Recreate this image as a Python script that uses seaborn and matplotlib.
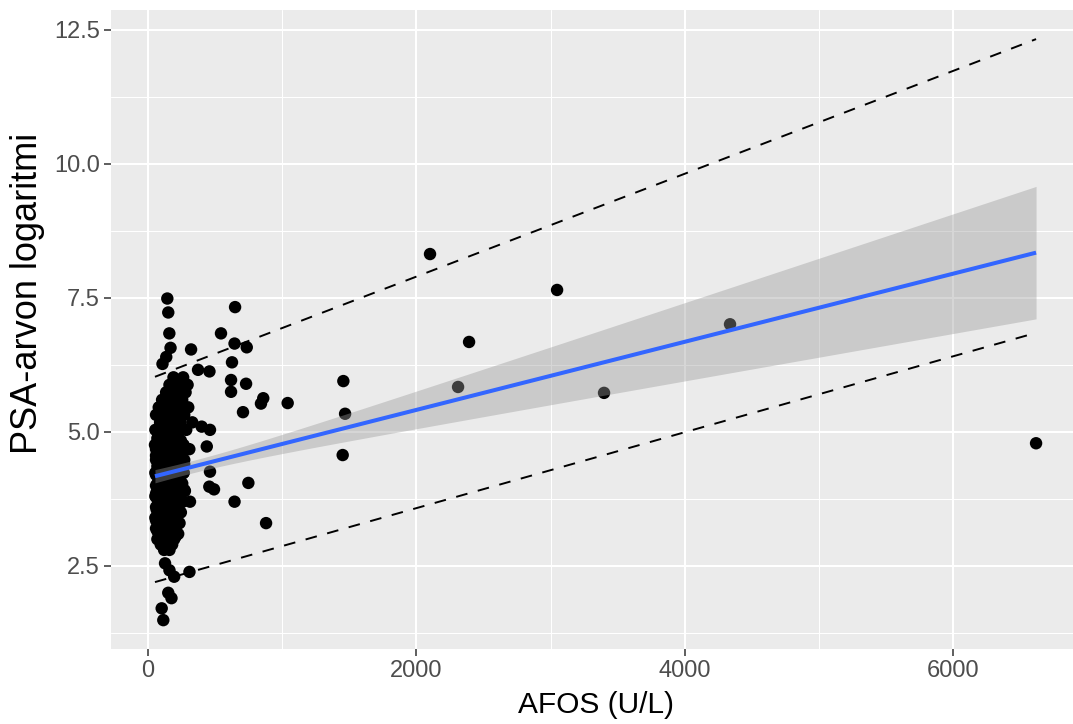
import numpy as np
import pandas as pd
import matplotlib
matplotlib.use("Agg")
import matplotlib.pyplot as plt
import seaborn as sns
from matplotlib.ticker import MultipleLocator, FixedLocator, FixedFormatter

# ---------------- data ----------------
# isolated / readable points
iso_afos = [144, 151, 159, 168, 321, 136, 108, 649, 544, 645, 736, 626, 373, 458,
            619, 619, 731, 859, 842, 1041, 708, 1456, 1469, 1451, 2102, 3049, 2393,
            4338, 2311, 3399, 6619, 462, 457, 492, 748, 313, 645, 880, 127, 309,
            195, 160, 151, 175, 102, 114, 400, 462, 438, 308]
iso_psa = [7.49, 7.23, 6.84, 6.57, 6.54, 6.40, 6.27, 7.33, 6.84, 6.65, 6.58, 6.30, 6.16, 6.13,
           5.97, 5.75, 5.90, 5.63, 5.53, 5.54, 5.37, 5.95, 5.34, 4.57, 8.32, 7.65, 6.68,
           7.01, 5.84, 5.73, 4.79, 4.26, 3.98, 3.93, 4.05, 3.70, 3.70, 3.30, 2.55, 2.39,
           2.30, 2.42, 2.00, 1.90, 1.71, 1.49, 5.10, 5.04, 4.73, 4.68]

# dense, overlapping cluster near the y axis (estimated; mostly hidden)
cl_afos = [190, 262, 160, 235, 295, 135, 210, 280, 105, 180, 255,
           80, 150, 225, 300, 60, 125, 195, 270, 90, 165, 240, 330,
           55, 130, 205, 285, 75, 150, 225, 52, 115, 190, 265, 85, 160, 235,
           60, 130, 200, 270, 95, 170, 240, 55, 125, 195, 265, 85, 155, 225,
           60, 120, 185, 250, 90, 150, 210, 275, 55, 115, 175, 240,
           80, 140, 200, 260, 60, 105, 165, 225, 75, 130, 190, 245,
           55, 100, 155, 215, 80, 125, 180, 235, 60, 105, 150, 205,
           85, 130, 175, 225, 70, 110, 155, 195, 95, 140, 180, 120, 160,
           70, 135, 200, 100, 160, 230, 65, 125, 185, 90, 150, 210,
           60, 115, 170, 85, 140, 195, 70, 120, 175, 100, 150, 205,
           65, 110, 165, 90, 135, 185, 120, 150]
cl_psa = [6.02, 6.02, 5.88, 5.88, 5.88, 5.74, 5.74, 5.74, 5.60, 5.60, 5.60,
          5.46, 5.46, 5.46, 5.46, 5.32, 5.32, 5.32, 5.32, 5.18, 5.18, 5.18, 5.18,
          5.04, 5.04, 5.04, 5.04, 4.90, 4.90, 4.90, 4.76, 4.76, 4.76, 4.76, 4.62, 4.62, 4.62,
          4.48, 4.48, 4.48, 4.48, 4.36, 4.36, 4.36, 4.24, 4.24, 4.24, 4.24, 4.12, 4.12, 4.12,
          4.00, 4.00, 4.00, 4.00, 3.90, 3.90, 3.90, 3.90, 3.80, 3.80, 3.80, 3.80,
          3.70, 3.70, 3.70, 3.70, 3.60, 3.60, 3.60, 3.60, 3.50, 3.50, 3.50, 3.50,
          3.40, 3.40, 3.40, 3.40, 3.30, 3.30, 3.30, 3.30, 3.20, 3.20, 3.20, 3.20,
          3.10, 3.10, 3.10, 3.10, 3.00, 3.00, 3.00, 3.00, 2.90, 2.90, 2.90, 2.80, 2.80,
          3.75, 3.75, 3.75, 3.65, 3.65, 3.65, 3.55, 3.55, 3.55, 3.45, 3.45, 3.45,
          3.35, 3.35, 3.35, 3.25, 3.25, 3.25, 3.15, 3.15, 3.15, 3.05, 3.05, 3.05,
          3.85, 3.85, 3.85, 3.95, 3.95, 3.95, 2.95, 2.95]

# core of the cluster, close to the fitted line (hidden under the blob)
core_afos = [70, 140, 210, 100, 175, 245, 60, 130, 200, 270, 90, 160, 230,
             65, 125, 190, 255, 100, 165, 225, 70, 135, 200, 260, 90, 150, 215,
             60, 120, 180, 240, 95, 160, 220, 70, 130, 195, 255, 100, 165, 225,
             65, 125, 185, 95, 155, 215, 75, 135, 190,
             105, 175, 245, 80, 150, 215, 95, 165, 235, 60, 120, 185, 250,
             110, 170, 235, 80, 145, 210, 270, 105, 160, 225, 75, 140, 200, 265,
             110, 175, 240, 85, 150, 210, 120, 180, 245, 90, 155, 215, 270,
             60, 115, 190, 130, 200, 80, 145, 210, 100, 165]
core_psa = [4.88, 4.88, 4.88, 4.78, 4.78, 4.78, 4.68, 4.68, 4.68, 4.68, 4.60, 4.60, 4.60,
            4.52, 4.52, 4.52, 4.52, 4.44, 4.44, 4.44, 4.36, 4.36, 4.36, 4.36, 4.28, 4.28, 4.28,
            4.20, 4.20, 4.20, 4.20, 4.12, 4.12, 4.12, 4.04, 4.04, 4.04, 4.04, 3.96, 3.96, 3.96,
            3.88, 3.88, 3.88, 3.80, 3.80, 3.80, 3.72, 3.72, 3.72,
            4.84, 4.84, 4.84, 4.74, 4.74, 4.74, 4.64, 4.64, 4.64, 4.56, 4.56, 4.56, 4.56,
            4.48, 4.48, 4.48, 4.40, 4.40, 4.40, 4.40, 4.32, 4.32, 4.32, 4.24, 4.24, 4.24, 4.24,
            4.16, 4.16, 4.16, 4.08, 4.08, 4.08, 4.00, 4.00, 4.00, 3.92, 3.92, 3.92, 3.92,
            3.84, 3.84, 3.84, 3.76, 3.76, 3.68, 3.68, 3.68, 4.30, 4.30]

# dashed reference lines (values at min / max AFOS)
upper_line = [6.03, 12.33]
lower_line = [2.20, 6.85]

x_ticks = [0, 2000, 4000, 6000]
y_ticks = [2.5, 5.0, 7.5, 10.0, 12.5]
x_title = "AFOS (U/L)"
y_title = "PSA-arvon logaritmi"

# ---------------- plotting ----------------
sns.set_theme(style="darkgrid")
plt.rcParams['font.family'] = ['Liberation Sans', 'DejaVu Sans']

df = pd.DataFrame({"afos": iso_afos + cl_afos + core_afos,
                   "psa": iso_psa + cl_psa + core_psa})
x = df["afos"].to_numpy(float)
y = df["psa"].to_numpy(float)
n = len(x)

# linear fit + 95% confidence band (like geom_smooth(method = "lm"))
b1, b0 = np.polyfit(x, y, 1)
xg = np.linspace(x.min(), x.max(), 120)
yg = b0 + b1 * xg
resid = y - (b0 + b1 * x)
s = np.sqrt(np.sum(resid ** 2) / (n - 2))
sxx = np.sum((x - x.mean()) ** 2)
se = s * np.sqrt(1.0 / n + (xg - x.mean()) ** 2 / sxx)
tq = 1.968
lo_band, hi_band = yg - tq * se, yg + tq * se

# ggplot-like 5% expansion
xmin, xmax = x.min(), x.max()
ymin = min(y.min(), lo_band.min(), min(lower_line))
ymax = max(y.max(), hi_band.max(), max(upper_line))
xl, xr = xmin - 0.05 * (xmax - xmin), xmax + 0.05 * (xmax - xmin)
yl, yr = ymin - 0.05 * (ymax - ymin), ymax + 0.05 * (ymax - ymin)

W, H = 1073, 724
fig = plt.figure(figsize=(W / 100, H / 100), dpi=100)
fig.patch.set_facecolor("white")

# pixel mapping of the reference panel
kx, x0px = 0.13417, 148.0
ky, y25px = 53.6, 566.0
left_px = x0px + xl * kx
right_px = x0px + xr * kx
top_px = y25px - (yr - 2.5) * ky
bot_px = y25px + (2.5 - yl) * ky
ax = fig.add_axes([left_px / W, 1 - bot_px / H, (right_px - left_px) / W, (bot_px - top_px) / H])
ax.set_facecolor("#EBEBEB")

sns.scatterplot(data=df, x="afos", y="psa", s=80, color="black", edgecolor="none",
                linewidth=0, ax=ax, zorder=3, legend=False)
ax.fill_between(xg, lo_band, hi_band, color="#999999", alpha=0.4, linewidth=0, zorder=4)
sns.regplot(data=df, x="afos", y="psa", scatter=False, ci=None, ax=ax,
            line_kws=dict(color="#3366FF", lw=2.9, zorder=5, solid_capstyle="butt"))
for vals in (upper_line, lower_line):
    ax.plot([xmin, xmax], vals, color="black", lw=1.4, linestyle=(0, (6, 5.5)), zorder=6)

ax.set_xlim(xl, xr)
ax.set_ylim(yl, yr)
ax.xaxis.set_major_locator(FixedLocator(x_ticks))
ax.xaxis.set_major_formatter(FixedFormatter([str(v) for v in x_ticks]))
ax.yaxis.set_major_locator(FixedLocator(y_ticks))
ax.yaxis.set_major_formatter(FixedFormatter([f"{v:.1f}" for v in y_ticks]))
ax.xaxis.set_minor_locator(MultipleLocator(1000))
ax.yaxis.set_minor_locator(MultipleLocator(1.25))

ax.grid(which="major", color="white", lw=1.5)
ax.grid(which="minor", color="white", lw=0.75)
ax.set_axisbelow(True)
for sp in ax.spines.values():
    sp.set_visible(False)

ax.tick_params(which="major", length=5, width=1.1, color="#333333", labelcolor="#4D4D4D",
               labelsize=17, pad=3, bottom=True, left=True)
ax.tick_params(which="minor", length=0)
ax.set_xlabel(x_title, fontsize=21.5, color="black", labelpad=6)
ax.set_ylabel(y_title, fontsize=26, color="black")
ax.yaxis.set_label_coords(-0.068, 0.557)

fig.savefig("out.png", dpi=100)
